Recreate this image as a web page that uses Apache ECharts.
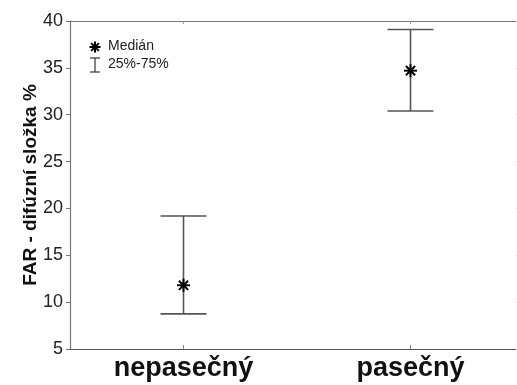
<!DOCTYPE html>
<html>
<head>
<meta charset="utf-8">
<script src="https://cdn.jsdelivr.net/npm/echarts@6/dist/echarts.min.js"></script>
<style>
html,body{margin:0;padding:0;background:#fff;overflow:hidden;}
#chart{width:517px;height:385px;}
</style>
</head>
<body>
<div id="chart"></div>
<script>
var categories = ['nepasečný', 'pasečný'];
var medians = [11.8, 34.7];
var q25 = [8.75, 30.4];
var q75 = [19.2, 39.1];
var yTicks = [5, 10, 15, 20, 25, 30, 35, 40];
var yTitle = 'FAR - difúzní složka %';
var legendLabels = ['Medián', '25%-75%'];

var FONT = '"Liberation Sans", Arial, sans-serif';
var chart = echarts.init(document.getElementById('chart'));

var barData = categories.map(function (c, i) { return [i, q25[i], q75[i]]; });
var medData = categories.map(function (c, i) { return [i, medians[i]]; });

function starShapes(cx, cy, r, lw, color) {
  var arms = [];
  [0, 45, 90, 135].forEach(function (a) {
    var rad = a * Math.PI / 180;
    var dx = Math.cos(rad) * r, dy = Math.sin(rad) * r;
    arms.push({
      type: 'line',
      shape: { x1: cx - dx, y1: cy - dy, x2: cx + dx, y2: cy + dy },
      style: { stroke: color, lineWidth: lw }
    });
  });
  return arms;
}

var option = {
  backgroundColor: '#ffffff',
  animation: false,
  grid: { left: 70, width: 454, top: 21, bottom: 36, outerBoundsMode: 'none', containLabel: false },
  xAxis: [{
    type: 'category',
    data: categories,
    boundaryGap: true,
    axisLine: { show: true, lineStyle: { color: '#555', width: 1.2 } },
    axisTick: { show: true, inside: true, alignWithLabel: true, length: 4, lineStyle: { color: '#888' } },
    axisLabel: { color: '#111', fontFamily: FONT, fontSize: 27, fontWeight: 'bold', margin: 6 }
  }, {
    type: 'category',
    data: categories,
    position: 'top',
    boundaryGap: true,
    axisLine: { show: true, lineStyle: { color: '#777', width: 1.2 } },
    axisTick: { show: true, inside: true, alignWithLabel: true, length: 3, lineStyle: { color: '#999' } },
    axisLabel: { show: false }
  }],
  yAxis: [{
    type: 'value',
    min: yTicks[0],
    max: yTicks[yTicks.length - 1],
    interval: 5,
    name: yTitle,
    nameLocation: 'middle',
    nameGap: 30,
    nameMoveOverlap: false,
    nameTextStyle: { color: '#111', fontFamily: FONT, fontSize: 19, fontWeight: 'bold' },
    splitLine: { show: false },
    axisLine: { show: true, lineStyle: { color: '#777', width: 1.2 } },
    axisTick: { show: true, inside: false, length: 4, lineStyle: { color: '#777' } },
    axisLabel: { color: '#222', fontFamily: FONT, fontSize: 18, margin: 7 }
  }, {
    type: 'value',
    position: 'right',
    min: yTicks[0],
    max: yTicks[yTicks.length - 1],
    interval: 5,
    splitLine: { show: false },
    axisLine: { show: false },
    axisTick: { show: true, inside: true, length: 8, lineStyle: { color: '#ddd' } },
    axisLabel: { show: false }
  }],
  series: [{
    type: 'custom',
    name: legendLabels[1],
    data: barData,
    encode: { x: 0, y: [1, 2] },
    renderItem: function (params, api) {
      var x = api.value(0);
      var lo = api.coord([x, api.value(1)]);
      var hi = api.coord([x, api.value(2)]);
      var hw = 23;
      var st = { stroke: '#555', lineWidth: 1.6 };
      return {
        type: 'group',
        children: [
          { type: 'line', shape: { x1: lo[0], y1: lo[1], x2: hi[0], y2: hi[1] }, style: st },
          { type: 'line', shape: { x1: lo[0] - hw, y1: lo[1], x2: lo[0] + hw, y2: lo[1] }, style: st },
          { type: 'line', shape: { x1: hi[0] - hw, y1: hi[1], x2: hi[0] + hw, y2: hi[1] }, style: st }
        ]
      };
    }
  }, {
    type: 'custom',
    name: legendLabels[0],
    data: medData,
    encode: { x: 0, y: 1 },
    z: 5,
    renderItem: function (params, api) {
      var p = api.coord([api.value(0), api.value(1)]);
      return { type: 'group', children: starShapes(p[0], p[1], 6.5, 2, '#000') };
    }
  }],
  graphic: [].concat(
    starShapes(95, 47, 5.5, 2, '#000').map(function (s) { return Object.assign({}, s, { z: 10 }); }),
    [
      { type: 'line', shape: { x1: 95, y1: 58, x2: 95, y2: 72 }, style: { stroke: '#333', lineWidth: 1.2 } },
      { type: 'line', shape: { x1: 90, y1: 58, x2: 100, y2: 58 }, style: { stroke: '#333', lineWidth: 1.2 } },
      { type: 'line', shape: { x1: 90, y1: 72, x2: 100, y2: 72 }, style: { stroke: '#333', lineWidth: 1.2 } },
      { type: 'text', left: 108, top: 39, style: { text: legendLabels[0], font: '14px ' + FONT, fill: '#222' } },
      { type: 'text', left: 108, top: 57, style: { text: legendLabels[1], font: '14px ' + FONT, fill: '#222' } }
    ]
  )
};
chart.setOption(option);
</script>
</body>
</html>
